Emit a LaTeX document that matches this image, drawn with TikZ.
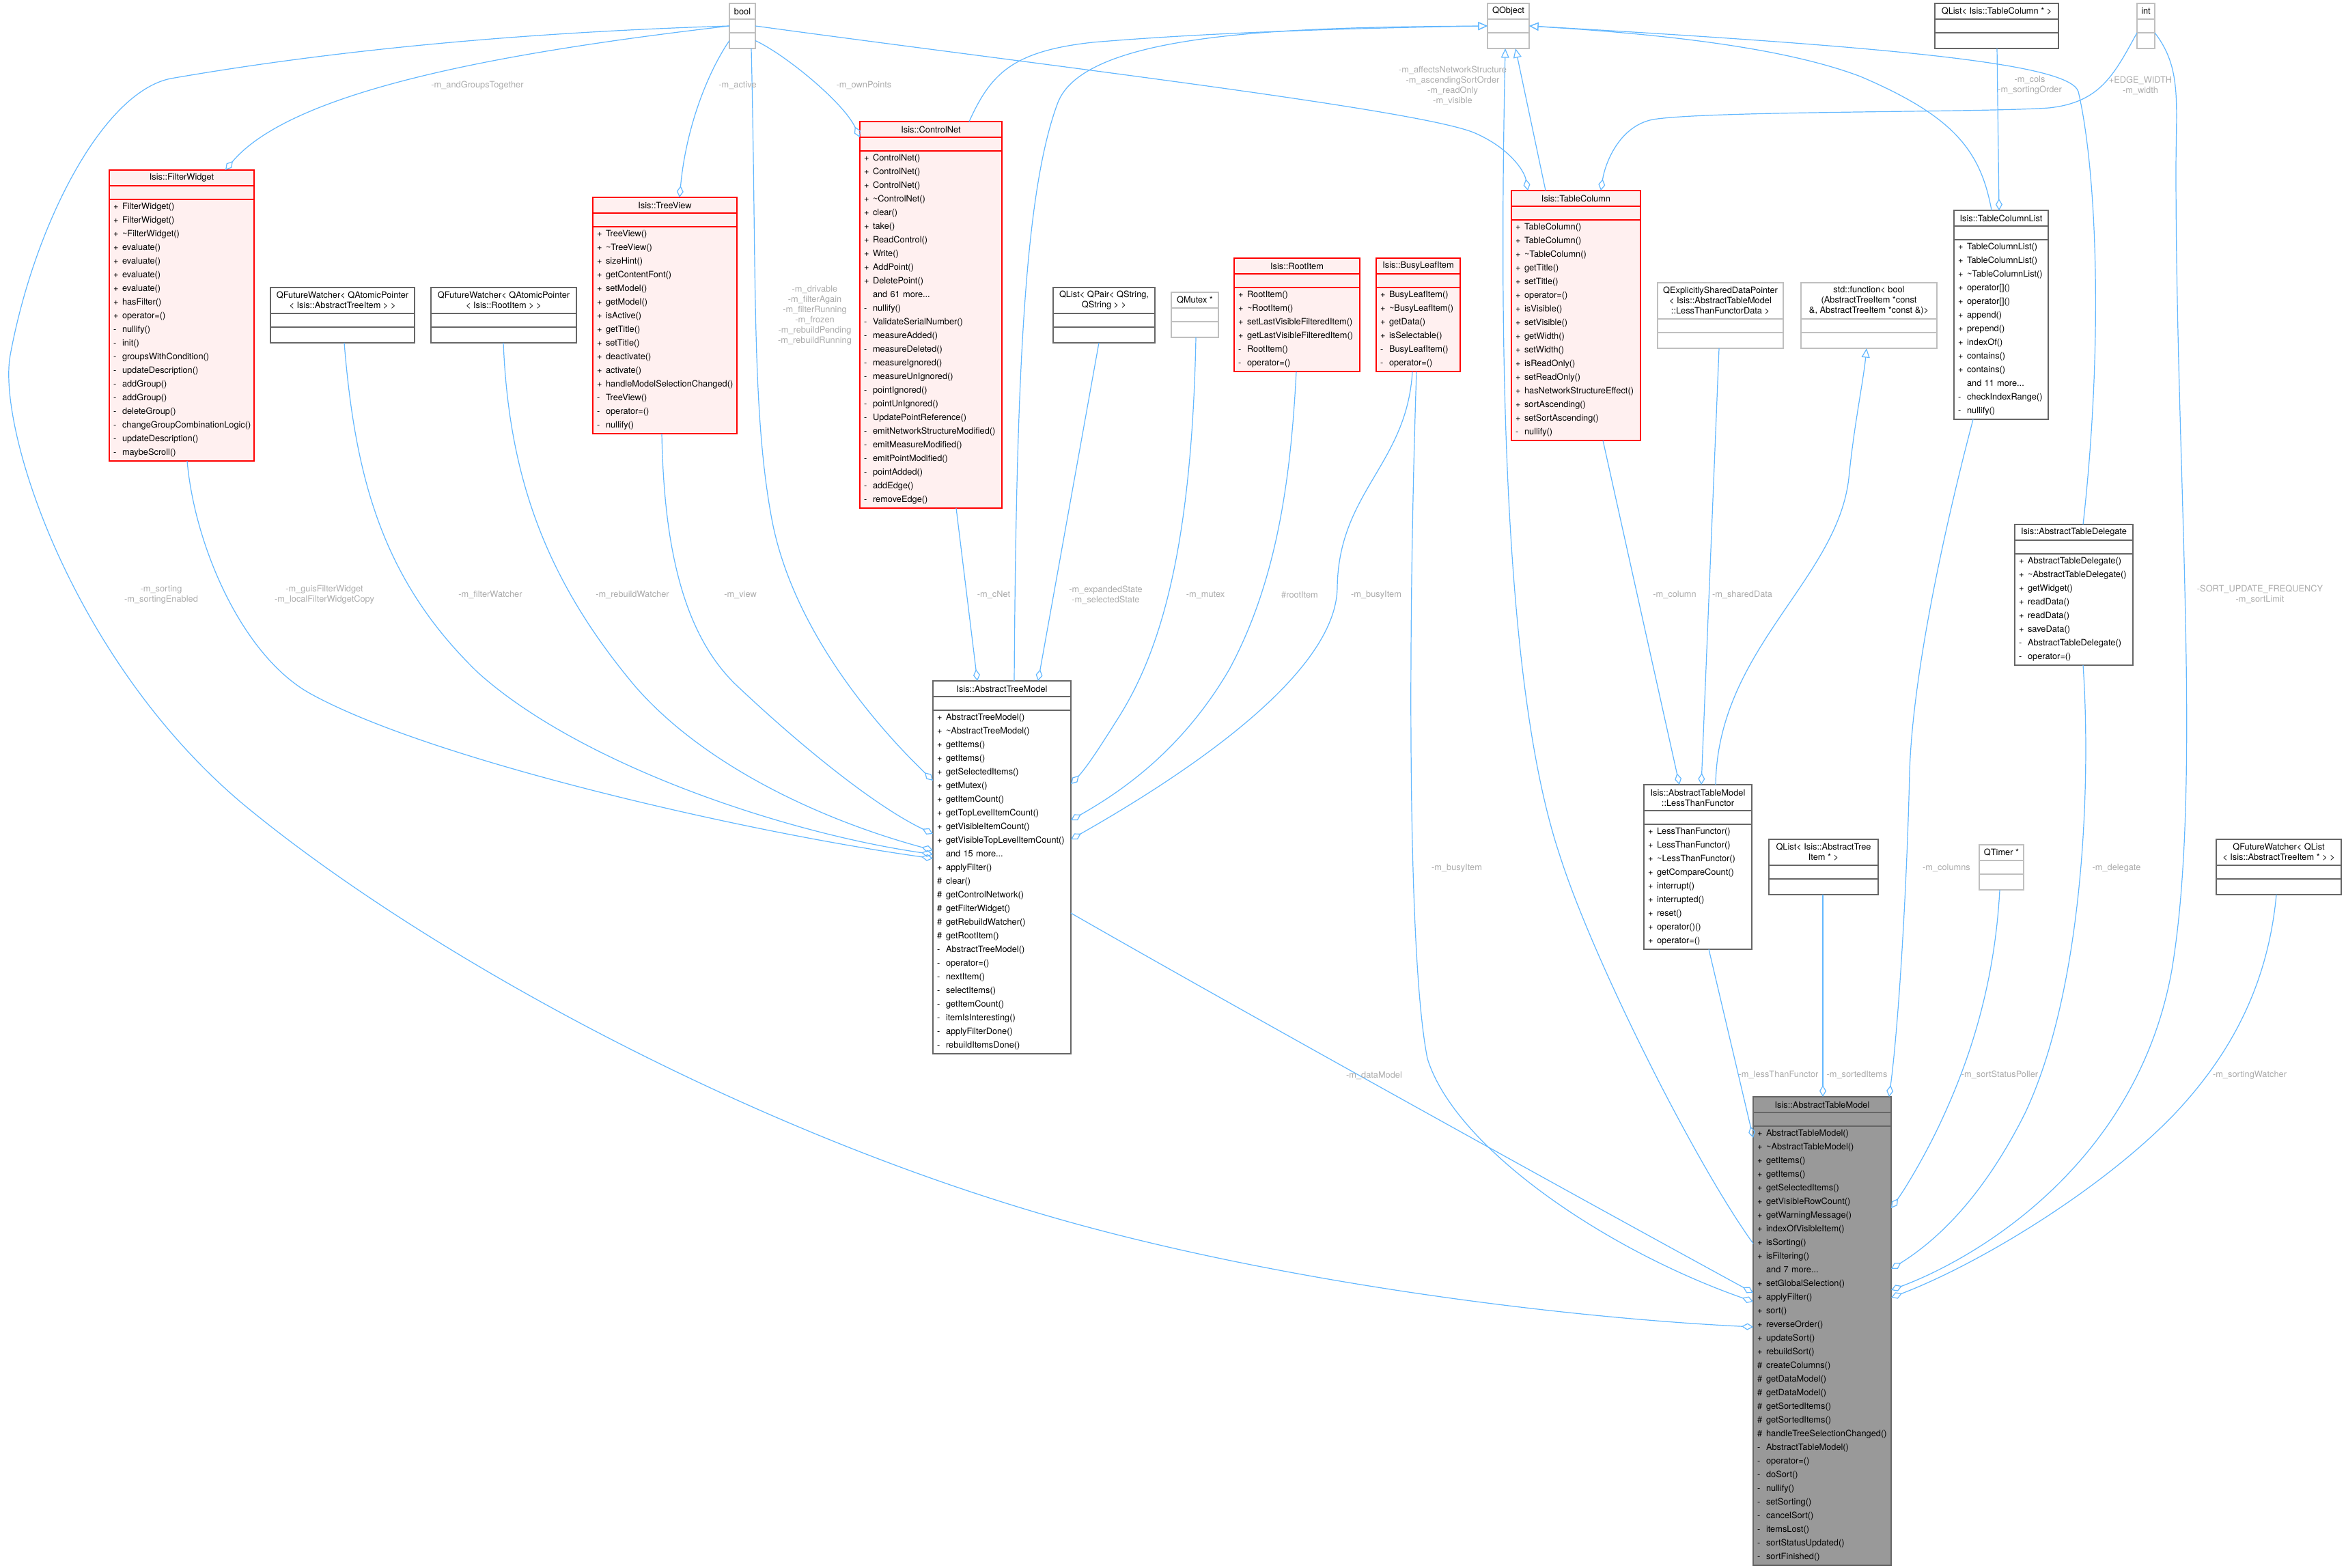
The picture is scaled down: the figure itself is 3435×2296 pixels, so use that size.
\documentclass[tikz,border=0pt]{standalone}
\usepackage{fontspec}
\setmainfont{TeX Gyre Heros}
\usetikzlibrary{
  arrows.meta
}
\definecolor{edgeblue}{HTML}{63B8FF}
\definecolor{lblgrey}{HTML}{ABABAB}
\definecolor{redfill}{HTML}{FFF0F0}
\definecolor{boxgrey}{HTML}{666666}
\definecolor{lightgrey}{HTML}{BFBFBF}
\definecolor{mainfill}{HTML}{999999}

% member visibility marks
\newcommand\mpub{\makebox[3.25mm][l]{+}}
\newcommand\mpriv{\makebox[3.25mm][l]{-}}
\newcommand\mprot{\makebox[3.25mm][l]{\#}}
\newcommand\mnone{\makebox[3.25mm][l]{}}

% #1 name, #2 look, #3 top left, #4 width, #5 title lines, #6 member rows, #7 title, #8 members
\newcommand\classbox[8]{%
  \pgfmathsetmacro\cbw{#4*0.25}%
  \pgfmathsetmacro\cbt{(#4-12)*0.25}%
  \pgfmathsetmacro\cbh{(8+15*#5)*0.25}%
  \pgfmathsetmacro\cbm{(3+20*#6)*0.25}%
  \node[cls, #2, minimum width=\cbw mm, minimum height=\cbh mm, anchor=north west] (#1) at #3 {#7};
  \node[cls, #2, minimum width=\cbw mm, minimum height=5mm, anchor=north] (#1a) at (#1.south) {};
  \node[cls, #2, members, minimum width=\cbw mm, minimum height=\cbm mm, text width=\cbt mm, anchor=north] (#1m) at (#1a.south) {#8};
}

\begin{document}
\begin{tikzpicture}[x=0.25mm, y=-0.25mm,
    every node/.style={inner sep=0pt, outer sep=0pt, font=\fontsize{9.1}{10.67}\selectfont},
    cls/.style={draw, line width=0.3mm, align=center},
    redbox/.style={draw=red, fill=redfill},
    greybox/.style={draw=boxgrey, fill=white},
    lightbox/.style={draw=lightgrey, fill=white},
    mainbox/.style={draw=boxgrey, fill=mainfill},
    members/.style={inner xsep=1.5mm, align=left, font=\fontsize{9.1}{14.226}\selectfont},
    lbl/.style={text=lblgrey, align=center},
    has/.style={draw=edgeblue, line width=0.3mm, -{Diamond[open, length=4.25mm, width=2.5mm]}},
    isa/.style={draw=edgeblue, line width=0.3mm, -{Triangle[open, length=3.4mm, width=3mm]}}]

  \fill[white] (0,0) rectangle (3435,2296);
  \useasboundingbox (0,0) rectangle (3435,2296);

  % top row
  \classbox{bool}{lightbox}{(1068,5)}{38}{1}{1}{bool}{}
  \classbox{QObject}{lightbox}{(2178,5)}{61}{1}{1}{QObject}{}
  \classbox{QListTC}{greybox}{(2833,5)}{181}{1}{1}{QList< Isis::TableColumn * >}{}
  \classbox{int}{lightbox}{(3129,5)}{26}{1}{1}{int}{}

  % second row
  \classbox{FW}{redbox}{(160,249)}{212}{1}{19}{Isis::FilterWidget}{%
    \mpub FilterWidget()\\\mpub FilterWidget()\\\mpub \textasciitilde FilterWidget()\\
    \mpub evaluate()\\\mpub evaluate()\\\mpub evaluate()\\\mpub evaluate()\\
    \mpub hasFilter()\\\mpub operator=()\\\mpriv nullify()\\\mpriv init()\\
    \mpriv groupsWithCondition()\\\mpriv updateDescription()\\\mpriv addGroup()\\
    \mpriv addGroup()\\\mpriv deleteGroup()\\\mpriv changeGroupCombinationLogic()\\
    \mpriv updateDescription()\\\mpriv maybeScroll()}
  \classbox{QFWtree}{greybox}{(396,421)}{211}{2}{1}{QFutureWatcher< QAtomicPointer\\< Isis::AbstractTreeItem > >}{}
  \classbox{QFWroot}{greybox}{(631,421)}{213}{2}{1}{QFutureWatcher< QAtomicPointer\\< Isis::RootItem > >}{}
  \classbox{TV}{redbox}{(868,289)}{211}{1}{15}{Isis::TreeView}{%
    \mpub TreeView()\\\mpub \textasciitilde TreeView()\\\mpub sizeHint()\\
    \mpub getContentFont()\\\mpub setModel()\\\mpub getModel()\\\mpub isActive()\\
    \mpub getTitle()\\\mpub setTitle()\\\mpub deactivate()\\\mpub activate()\\
    \mpub handleModelSelectionChanged()\\\mpriv TreeView()\\\mpriv operator=()\\
    \mpriv nullify()}
  \classbox{CN}{redbox}{(1259,178)}{208}{1}{26}{Isis::ControlNet}{%
    \mpub ControlNet()\\\mpub ControlNet()\\\mpub ControlNet()\\\mpub \textasciitilde ControlNet()\\
    \mpub clear()\\\mpub take()\\\mpub ReadControl()\\\mpub Write()\\\mpub AddPoint()\\
    \mpub DeletePoint()\\\mnone and 61 more...\\\mpriv nullify()\\
    \mpriv ValidateSerialNumber()\\\mpriv measureAdded()\\\mpriv measureDeleted()\\
    \mpriv measureIgnored()\\\mpriv measureUnIgnored()\\\mpriv pointIgnored()\\
    \mpriv pointUnIgnored()\\\mpriv UpdatePointReference()\\
    \mpriv emitNetworkStructureModified()\\\mpriv emitMeasureModified()\\
    \mpriv emitPointModified()\\\mpriv pointAdded()\\\mpriv addEdge()\\\mpriv removeEdge()}
  \classbox{QLPair}{greybox}{(1542,421)}{149}{2}{1}{QList< QPair< QString,\\ QString > >}{}
  \classbox{QMutex}{lightbox}{(1715,428)}{69}{1}{1}{QMutex *}{}
  \classbox{RI}{redbox}{(1807,378)}{184}{1}{6}{Isis::RootItem}{%
    \mpub RootItem()\\\mpub \textasciitilde RootItem()\\\mpub setLastVisibleFilteredItem()\\
    \mpub getLastVisibleFilteredItem()\\\mpriv RootItem()\\\mpriv operator=()}
  \classbox{BLI}{redbox}{(2015,378)}{123}{1}{6}{Isis::BusyLeafItem}{%
    \mpub BusyLeafItem()\\\mpub \textasciitilde BusyLeafItem()\\\mpub getData()\\
    \mpub isSelectable()\\\mpriv BusyLeafItem()\\\mpriv operator=()}
  \classbox{TC}{redbox}{(2213,279)}{189}{1}{16}{Isis::TableColumn}{%
    \mpub TableColumn()\\\mpub TableColumn()\\\mpub \textasciitilde TableColumn()\\
    \mpub getTitle()\\\mpub setTitle()\\\mpub operator=()\\\mpub isVisible()\\
    \mpub setVisible()\\\mpub getWidth()\\\mpub setWidth()\\\mpub isReadOnly()\\
    \mpub setReadOnly()\\\mpub hasNetworkStructureEffect()\\\mpub sortAscending()\\
    \mpub setSortAscending()\\\mpriv nullify()}
  \classbox{QESDP}{lightbox}{(2427,414)}{184}{3}{1}{QExplicitlySharedDataPointer\\< Isis::AbstractTableModel\\ ::LessThanFunctorData >}{}
  \classbox{StdFn}{lightbox}{(2637,414)}{199}{3}{1}{std::function< bool\\ (AbstractTreeItem *const\\ \&, AbstractTreeItem *const \&)>}{}
  \classbox{TCL}{greybox}{(2861,308)}{138}{1}{13}{Isis::TableColumnList}{%
    \mpub TableColumnList()\\\mpub TableColumnList()\\\mpub \textasciitilde TableColumnList()\\
    \mpub operator[]()\\\mpub operator[]()\\\mpub append()\\\mpub prepend()\\
    \mpub indexOf()\\\mpub contains()\\\mpub contains()\\\mnone and 11 more...\\
    \mpriv checkIndexRange()\\\mpriv nullify()}
  \classbox{ATD}{greybox}{(2950,768)}{173}{1}{8}{Isis::AbstractTableDelegate}{%
    \mpub AbstractTableDelegate()\\\mpub \textasciitilde AbstractTableDelegate()\\
    \mpub getWidget()\\\mpub readData()\\\mpub readData()\\\mpub saveData()\\
    \mpriv AbstractTableDelegate()\\\mpriv operator=()}

  % lower rows
  \classbox{ATrM}{greybox}{(1366,997)}{202}{1}{25}{Isis::AbstractTreeModel}{%
    \mpub AbstractTreeModel()\\\mpub \textasciitilde AbstractTreeModel()\\\mpub getItems()\\
    \mpub getItems()\\\mpub getSelectedItems()\\\mpub getMutex()\\\mpub getItemCount()\\
    \mpub getTopLevelItemCount()\\\mpub getVisibleItemCount()\\
    \mpub getVisibleTopLevelItemCount()\\\mnone and 15 more...\\\mpub applyFilter()\\
    \mprot clear()\\\mprot getControlNetwork()\\\mprot getFilterWidget()\\
    \mprot getRebuildWatcher()\\\mprot getRootItem()\\\mpriv AbstractTreeModel()\\
    \mpriv operator=()\\\mpriv nextItem()\\\mpriv selectItems()\\\mpriv getItemCount()\\
    \mpriv itemIsInteresting()\\\mpriv applyFilterDone()\\\mpriv rebuildItemsDone()}
  \classbox{LTF}{greybox}{(2407,1149)}{158}{2}{9}{Isis::AbstractTableModel\\::LessThanFunctor}{%
    \mpub LessThanFunctor()\\\mpub LessThanFunctor()\\\mpub \textasciitilde LessThanFunctor()\\
    \mpub getCompareCount()\\\mpub interrupt()\\\mpub interrupted()\\\mpub reset()\\
    \mpub operator()()\\\mpub operator=()}
  \classbox{QLItem}{greybox}{(2590,1229)}{160}{2}{1}{QList< Isis::AbstractTree\\Item * >}{}
  \classbox{QTimer}{lightbox}{(2898,1237)}{65}{1}{1}{QTimer *}{}
  \classbox{QFWList}{greybox}{(3245,1229)}{183}{2}{1}{QFutureWatcher< QList\\< Isis::AbstractTreeItem * > >}{}
  \classbox{ATM}{mainbox}{(2567,1606)}{202}{1}{32}{Isis::AbstractTableModel}{%
    \mpub AbstractTableModel()\\\mpub \textasciitilde AbstractTableModel()\\\mpub getItems()\\
    \mpub getItems()\\\mpub getSelectedItems()\\\mpub getVisibleRowCount()\\
    \mpub getWarningMessage()\\\mpub indexOfVisibleItem()\\\mpub isSorting()\\
    \mpub isFiltering()\\\mnone and 7 more...\\\mpub setGlobalSelection()\\
    \mpub applyFilter()\\\mpub sort()\\\mpub reverseOrder()\\\mpub updateSort()\\
    \mpub rebuildSort()\\\mprot createColumns()\\\mprot getDataModel()\\
    \mprot getDataModel()\\\mprot getSortedItems()\\\mprot getSortedItems()\\
    \mprot handleTreeSelectionChanged()\\\mpriv AbstractTableModel()\\\mpriv operator=()\\
    \mpriv doSort()\\\mpriv nullify()\\\mpriv setSorting()\\\mpriv cancelSort()\\
    \mpriv itemsLost()\\\mpriv sortStatusUpdated()\\\mpriv sortFinished()}

  % inheritance
  \draw[isa] (CN.north -| 1419,0) .. controls (1450,110) and (1480,75) .. (1600,62)
    .. controls (1800,45) and (2050,40) .. (QObjecta.west);
  \draw[isa] (ATrM.north -| 1485,0) .. controls (1488,550) and (1500,280) .. (1549,150)
    .. controls (1590,45) and (1900,40) .. (QObjecta.west);
  \draw[isa] (ATMm.west |- 0,1821) .. controls (2480,1700) and (2330,1400) .. (2283,1250)
    .. controls (2200,1000) and (2195,500) .. (QObjectm.south -| 2204,0);
  \draw[isa] (TC.north -| 2263,0) -- (QObjectm.south -| 2219,0);
  \draw[isa] (TCL.north -| 2916,0) .. controls (2900,220) and (2860,170) .. (2724,112)
    .. controls (2600,65) and (2400,48) .. (QObjecta.east);
  \draw[isa] (ATD.north -| 3050,0) .. controls (3080,500) and (3070,250) .. (3043,134)
    .. controls (3030,95) and (2800,70) .. (QObjecta.east);
  \draw[isa] (LTF.north -| 2512,0) .. controls (2515,950) and (2690,850) .. (2707,700)
    .. controls (2715,620) and (2728,560) .. (StdFnm.south -| 2733,0);

  % members out of bool and int
  \draw[has] (boola.west) .. controls (750,48) and (480,75) .. (250,115)
    .. controls (150,135) and (50,330) .. (15,520)
    .. controls (-5,630) and (110,980) .. (370,1189)
    .. controls (630,1400) and (1100,1660) .. (1568,1790)
    .. controls (1900,1882) and (2300,1930) .. (ATMm.west |- 0,1943);
  \draw[has] (boola.west) .. controls (750,75) and (430,130) .. (FW.north -| 330,0);
  \draw[has] (boolm.west) .. controls (1040,100) and (1005,180) .. (TV.north -| 995,0);
  \draw[has] (boolm.east) .. controls (1150,80) and (1235,150) .. (CNa.north west);
  \draw[has] (boolm.south -| 1100,0) .. controls (1108,400) and (1100,600) .. (1130,760)
    .. controls (1160,920) and (1280,1060) .. (ATrMm.west |- 0,1143);
  \draw[has] (boola.east) .. controls (1500,92) and (2080,160) .. (2160,195)
    .. controls (2210,217) and (2232,250) .. (TC.north -| 2237,0);
  \draw[has] (inta.south west) .. controls (3095,110) and (3075,150) .. (3000,158)
    .. controls (2900,165) and (2500,162) .. (2420,175)
    .. controls (2370,185) and (2350,240) .. (TC.north -| 2344,0);
  \draw[has] (inta.south east) .. controls (3195,100) and (3186,150) .. (3186,250)
    .. controls (3186,700) and (3225,1150) .. (3180,1420)
    .. controls (3130,1700) and (2900,1840) .. (ATMm.east |- 0,1889);
  \draw[has] (QListTCm.south -| 2924,0) -- (TCL.north -| 2927,0);

  % members of the tree model
  \draw[has] (FWm.south -| 274,0) .. controls (285,800) and (355,961) .. (455,1016)
    .. controls (635,1115) and (1100,1220) .. (ATrMm.west |- 0,1257);
  \draw[has] (QFWtreem.south -| 504,0) .. controls (520,700) and (560,850) .. (700,985)
    .. controls (850,1120) and (1150,1220) .. (ATrMm.west |- 0,1251);
  \draw[has] (QFWrootm.south -| 737,0) .. controls (745,700) and (800,850) .. (930,1005)
    .. controls (1030,1120) and (1200,1200) .. (ATrMm.west |- 0,1245);
  \draw[has] (TVm.south -| 969,0) .. controls (972,800) and (1000,930) .. (1080,1005)
    .. controls (1170,1090) and (1280,1180) .. (ATrMm.west |- 0,1221);
  \draw[has] (CNm.south -| 1400,0) -- (ATrM.north -| 1431,0);
  \draw[has] (QLPairm.south -| 1609,0) -- (ATrM.north -| 1520,0);
  \draw[has] (QMutexm.south -| 1751,0) .. controls (1745,800) and (1700,950) .. (1640,1047)
    .. controls (1610,1095) and (1590,1125) .. (ATrMm.east |- 0,1148);
  \draw[has] (RIm.south -| 1898,0) .. controls (1890,700) and (1870,850) .. (1800,980)
    .. controls (1730,1100) and (1640,1160) .. (ATrMm.east |- 0,1201);
  \draw[has] (BLIm.south -| 2068,0) .. controls (2060,680) and (1960,720) .. (1958,860)
    .. controls (1957,980) and (1760,1120) .. (ATrMm.east |- 0,1229);

  % members of the functor and the table model
  \draw[has] (TCm.south -| 2347,0) -- (LTF.north -| 2459,0);
  \draw[has] (QESDPm.south -| 2517,0) -- (LTF.north -| 2491,0);
  \draw[has] (BLIm.south -| 2074,0) .. controls (2062,900) and (2060,1400) .. (2090,1550)
    .. controls (2130,1680) and (2350,1830) .. (ATMm.west |- 0,1906);
  \draw[has] (ATrMm.east |- 0,1337) .. controls (1800,1470) and (2250,1720) .. (ATMm.west |- 0,1893);
  \draw[has] (LTFm.south -| 2502,0) -- (ATMm.west |- 0,1666);
  \draw[has] (QLItemm.south -| 2669,0) -- (ATM.north -| 2669,0);
  \draw[has] (TCLm.south -| 2889,0) .. controls (2840,800) and (2800,1000) .. (2796,1130)
    .. controls (2792,1300) and (2780,1500) .. (ATM.north -| 2766,0);
  \draw[has] (QTimerm.south -| 2928,0) .. controls (2920,1450) and (2880,1560) .. (2843,1640)
    .. controls (2820,1690) and (2790,1740) .. (ATMm.east |- 0,1769);
  \draw[has] (ATDm.south -| 3050,0) .. controls (3062,1150) and (3050,1450) .. (2965,1630)
    .. controls (2900,1760) and (2830,1820) .. (ATMm.east |- 0,1858);
  \draw[has] (QFWListm.south -| 3333,0) .. controls (3320,1450) and (3260,1550) .. (3185,1630)
    .. controls (3080,1740) and (2900,1850) .. (ATMm.east |- 0,1900);

  % edge labels
  \node[lbl] (l-groups) at (699,125) {-m\_andGroupsTogether};
  \node[lbl] (l-active) at (1080,125) {-m\_active};
  \node[lbl] (l-own) at (1265,125) {-m\_ownPoints};
  \node[lbl] (l-drive) at (1193,462) {-m\_drivable\\-m\_filterAgain\\-m\_filterRunning\\-m\_frozen\\-m\_rebuildPending\\-m\_rebuildRunning};
  \node[lbl] (l-affects) at (2127,125) {-m\_affectsNetworkStructure\\-m\_ascendingSortOrder\\-m\_readOnly\\-m\_visible};
  \node[lbl] (l-cols) at (2972,125) {-m\_cols\\-m\_sortingOrder};
  \node[lbl] (l-width) at (3134,125) {+EDGE\_WIDTH\\-m\_width};
  \node[lbl] (l-sort) at (236,871) {-m\_sorting\\-m\_sortingEnabled};
  \node[lbl] (l-guis) at (475,871) {-m\_guisFilterWidget\\-m\_localFilterWidgetCopy};
  \node[lbl] (l-fwatch) at (718,871) {-m\_filterWatcher};
  \node[lbl] (l-rwatch) at (926,871) {-m\_rebuildWatcher};
  \node[lbl] (l-view) at (1084,871) {-m\_view};
  \node[lbl] (l-cnet) at (1455,871) {-m\_cNet};
  \node[lbl] (l-state) at (1619,871) {-m\_expandedState\\-m\_selectedState};
  \node[lbl] (l-mutex) at (1765,871) {-m\_mutex};
  \node[lbl] (l-root) at (1903,871) {\#rootItem};
  \node[lbl] (l-busy) at (2015,871) {-m\_busyItem};
  \node[lbl] (l-column) at (2452,871) {-m\_column};
  \node[lbl] (l-shared) at (2551,871) {-m\_sharedData};
  \node[lbl] (l-freq) at (3309,870) {-SORT\_UPDATE\_FREQUENCY\\-m\_sortLimit};
  \node[lbl] (l-busy2) at (2133,1271) {-m\_busyItem};
  \node[lbl] (l-columns) at (2850,1271) {-m\_columns};
  \node[lbl] (l-deleg) at (3099,1271) {-m\_delegate};
  \node[lbl] (l-data) at (2012,1575) {-m\_dataModel};
  \node[lbl] (l-less) at (2604,1574) {-m\_lessThanFunctor};
  \node[lbl] (l-sorted) at (2719,1574) {-m\_sortedItems};
  \node[lbl] (l-poller) at (2928,1574) {-m\_sortStatusPoller};
  \node[lbl] (l-swatch) at (3294,1574) {-m\_sortingWatcher};
\end{tikzpicture}
\end{document}
